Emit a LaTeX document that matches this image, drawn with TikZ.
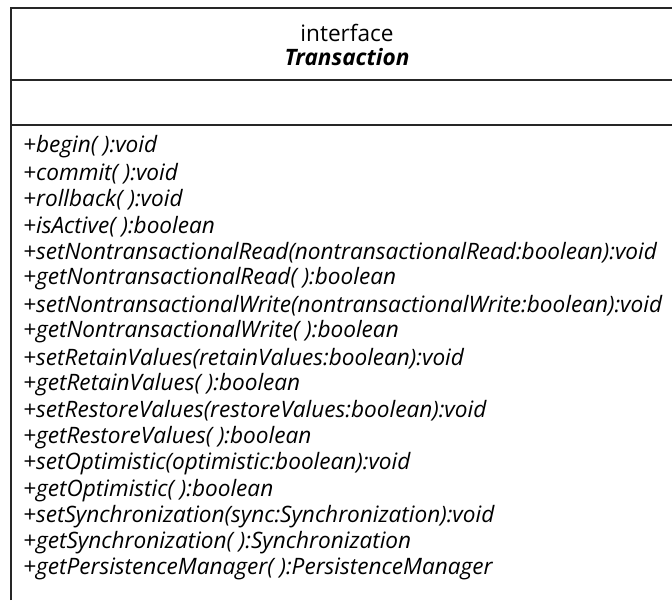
\documentclass[tikz,border=0pt]{standalone}
\usepackage{fontspec}
\setmainfont{Open Sans}
\begin{document}
\begin{tikzpicture}[x=1pt,y=-1pt,
  frame/.style={line width=2pt,black!85},
  member/.style={anchor=west,inner sep=0pt,font=\fontsize{22.6}{26}\selectfont\itshape},
  head/.style={inner sep=0pt,font=\fontsize{22.6}{26}\selectfont}]
\useasboundingbox (0,0) rectangle (672,600);
\draw[frame] (11,600) -- (11,8) -- (680,8);
\draw[frame] (11,79.5) -- (680,79.5);
\draw[frame] (11,125) -- (680,125);
\node[head] (stereo) at (347,33) {interface};
\node[head,font=\fontsize{22.6}{26}\selectfont\bfseries\itshape] (name) at (347,57) {Transaction};
\foreach \t [count=\i from 0] in {
 {+begin( ):void},
 {+commit( ):void},
 {+rollback( ):void},
 {+isActive( ):boolean},
 {+setNontransactionalRead(nontransactionalRead:boolean):void},
 {+getNontransactionalRead( ):boolean},
 {+setNontransactionalWrite(nontransactionalWrite:boolean):void},
 {+getNontransactionalWrite( ):boolean},
 {+setRetainValues(retainValues:boolean):void},
 {+getRetainValues( ):boolean},
 {+setRestoreValues(restoreValues:boolean):void},
 {+getRestoreValues( ):boolean},
 {+setOptimistic(optimistic:boolean):void},
 {+getOptimistic( ):boolean},
 {+setSynchronization(sync:Synchronization):void},
 {+getSynchronization( ):Synchronization},
 {+getPersistenceManager( ):PersistenceManager}}
{ \node[member] (m\i) at (23,147+26.4*\i) {\t}; }
\end{tikzpicture}
\end{document}
